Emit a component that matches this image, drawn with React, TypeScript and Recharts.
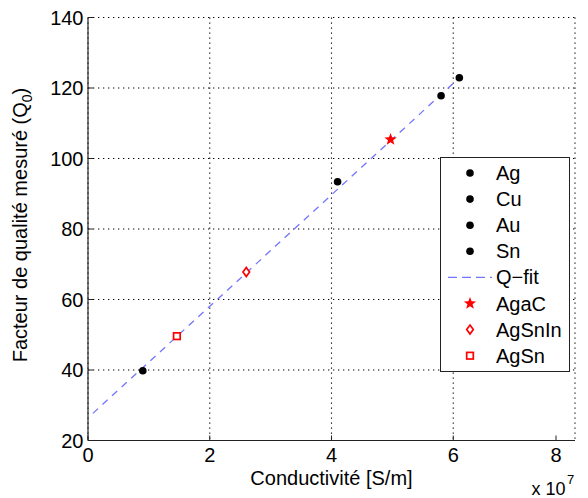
import React from 'react';
import {
  ScatterChart,
  Scatter,
  XAxis,
  YAxis,
  CartesianGrid,
  Legend,
} from 'recharts';

// conductivity in S/m, quality factor Q0
const metalNames = ['Ag', 'Cu', 'Au', 'Sn'];
const metalSigma = [6.1e7, 5.8e7, 4.1e7, 0.9e7];
const metalQ = [122.9, 117.8, 93.4, 39.8];

const alloyNames = ['AgaC', 'AgSnIn', 'AgSn'];
const alloySigma = [4.97e7, 2.6e7, 1.46e7];
const alloyQ = [105.4, 67.8, 49.6];
const alloyShapes = ['star', 'diamond', 'square'];

const fitName = 'Q\u2212fit';
const fitSigma = [0.08e7, 6.1e7];
const fitQ = [27.7, 122.9];

const xTicks = [0, 2e7, 4e7, 6e7, 8e7];
const yTicks = [20, 40, 60, 80, 100, 120, 140];

const FONT = '"Liberation Sans", Arial, sans-serif';
const RED = '#ff0000';
const FIT_COLOR = '#7474ff';
const AXIS = '#222';

const toPoints = (xs: number[], ys: number[]) =>
  xs.map((x, i) => ({ x, y: ys[i] }));

const starPath = (cx: number, cy: number, ro: number, ri: number) => {
  const pts: string[] = [];
  for (let i = 0; i < 10; i++) {
    const r = i % 2 === 0 ? ro : ri;
    const a = -Math.PI / 2 + (i * Math.PI) / 5;
    pts.push(`${cx + r * Math.cos(a)},${cy + r * Math.sin(a)}`);
  }
  return `M${pts.join('L')}Z`;
};

const Marker = ({ kind, cx, cy }: { kind: string; cx: number; cy: number }) => {
  if (kind === 'dot') return <circle cx={cx} cy={cy} r={3.8} fill='#000' />;
  if (kind === 'star') return <path d={starPath(cx, cy, 6.5, 2.7)} fill={RED} />;
  if (kind === 'diamond')
    return (
      <polygon
        points={`${cx},${cy - 4.5} ${cx + 3.3},${cy} ${cx},${cy + 4.5} ${cx - 3.3},${cy}`}
        fill='#fff'
        stroke={RED}
        strokeWidth={1.7}
      />
    );
  return (
    <rect x={cx - 3.3} y={cy - 3.3} width={6.6} height={6.6} fill='#fff' stroke={RED} strokeWidth={1.7} />
  );
};

const legendItems = [
  ...metalNames.map((n) => ({ name: n, kind: 'dot' })),
  { name: fitName, kind: 'line' },
  ...alloyNames.map((n, i) => ({ name: n, kind: alloyShapes[i] })),
];

const LegendBox = () => (
  <svg width={130} height={215} style={{ display: 'block' }}>
    <rect x={0.5} y={0.5} width={129} height={214} fill='#fff' stroke={AXIS} strokeWidth={1} />
    {legendItems.map((it, i) => {
      const cy = 16 + i * 26.1;
      return (
        <g key={it.name}>
          {it.kind === 'line' ? (
            <line x1={8} x2={52} y1={cy} y2={cy} stroke={FIT_COLOR} strokeWidth={1.3} strokeDasharray='9 5' />
          ) : (
            <Marker kind={it.kind} cx={30} cy={cy} />
          )}
          <text x={56} y={cy + 7} fontSize={20} fontFamily={FONT} fill='#000'>
            {it.name}
          </text>
        </g>
      );
    })}
  </svg>
);

const XTick = ({ x, y, payload }: any) => (
  <g>
    <line x1={x} x2={x} y1={y} y2={y - 5} stroke={AXIS} />
    <text x={x} y={y + 21} textAnchor='middle' fontSize={20} fontFamily={FONT} fill='#000'>
      {payload.value / 1e7}
    </text>
  </g>
);

const YTick = ({ x, y, payload }: any) => (
  <g>
    <line x1={x} x2={x + 5} y1={y} y2={y} stroke={AXIS} />
    <text x={x - 4.5} y={y + 7} textAnchor='end' fontSize={20} fontFamily={FONT} fill='#000'>
      {payload.value}
    </text>
  </g>
);

const XLabel = ({ viewBox }: any) => {
  const { x, y, width } = viewBox;
  return (
    <g fontFamily={FONT} fill='#000'>
      <text x={x + width / 2} y={y + 44.5} textAnchor='middle' fontSize={20}>
        Conductivité [S/m]
      </text>
      <text x={x + width - 43.5} y={y + 54.5} fontSize={18}>
        x 10
      </text>
      <text x={x + width - 8} y={y + 43.5} fontSize={13}>
        7
      </text>
    </g>
  );
};

const YLabel = ({ viewBox }: any) => {
  const { x, y, height } = viewBox;
  const cx = x + 27;
  const cy = y + height / 2 - 4;
  return (
    <text
      x={cx}
      y={cy}
      transform={`rotate(-90, ${cx}, ${cy})`}
      textAnchor='middle'
      fontSize={20}
      fontFamily={FONT}
      fill='#000'
    >
      Facteur de qualité mesuré (Q
      <tspan dy={5} fontSize={14}>0</tspan>
      <tspan dy={-5}>)</tspan>
    </text>
  );
};

const App: React.FC = () => {
  return (
    <div style={{ position: 'absolute', left: 0, top: 0, background: '#fff' }}>
      <ScatterChart
        width={588}
        height={498}
        margin={{ top: 17.5, right: 13, bottom: 0, left: 0 }}
      >
        <CartesianGrid
          stroke='#000'
          strokeWidth={1.1}
          strokeDasharray='1.3 3.7'
          horizontalValues={yTicks}
          verticalValues={xTicks}
        />
        <XAxis
          type='number'
          dataKey='x'
          domain={[0, 8e7]}
          ticks={xTicks}
          height={57.5}
          tickLine={false}
          tickSize={0}
          tickMargin={0}
          tick={<XTick />}
          axisLine={{ stroke: AXIS, strokeWidth: 1.2 }}
          label={<XLabel />}
        />
        <XAxis
          xAxisId='top'
          type='number'
          orientation='top'
          mirror
          height={0}
          domain={[0, 8e7]}
          ticks={xTicks}
          tick={false}
          tickSize={5}
          tickLine={{ stroke: AXIS }}
          axisLine={{ stroke: AXIS, strokeWidth: 1.2 }}
        />
        <YAxis
          type='number'
          dataKey='y'
          domain={[20, 140]}
          ticks={yTicks}
          width={88}
          tickLine={false}
          tickSize={0}
          tickMargin={0}
          tick={<YTick />}
          axisLine={{ stroke: AXIS, strokeWidth: 1.2 }}
          label={<YLabel />}
        />
        <YAxis
          yAxisId='right'
          type='number'
          orientation='right'
          mirror
          width={0}
          domain={[20, 140]}
          ticks={yTicks}
          tick={false}
          tickSize={5}
          tickLine={{ stroke: AXIS }}
          axisLine={{ stroke: AXIS, strokeWidth: 1.2 }}
        />
        <Scatter
          name={fitName}
          data={toPoints(fitSigma, fitQ)}
          line={{ stroke: FIT_COLOR, strokeWidth: 1.3, strokeDasharray: '7 6' }}
          shape={() => <g />}
          isAnimationActive={false}
        />
        {metalNames.map((n, i) => (
          <Scatter
            key={n}
            name={n}
            data={[{ x: metalSigma[i], y: metalQ[i] }]}
            shape={(p: any) => <Marker kind='dot' cx={p.cx} cy={p.cy} />}
            isAnimationActive={false}
          />
        ))}
        {alloyNames.map((n, i) => (
          <Scatter
            key={n}
            name={n}
            data={[{ x: alloySigma[i], y: alloyQ[i] }]}
            shape={(p: any) => <Marker kind={alloyShapes[i]} cx={p.cx} cy={p.cy} />}
            isAnimationActive={false}
          />
        ))}
        <Legend
          layout='vertical'
          align='center'
          verticalAlign='middle'
          content={() => <LegendBox />}
          wrapperStyle={{ left: 439.5, top: 156.5, width: 130, height: 215 }}
        />
      </ScatterChart>
    </div>
  );
};

export default App;
